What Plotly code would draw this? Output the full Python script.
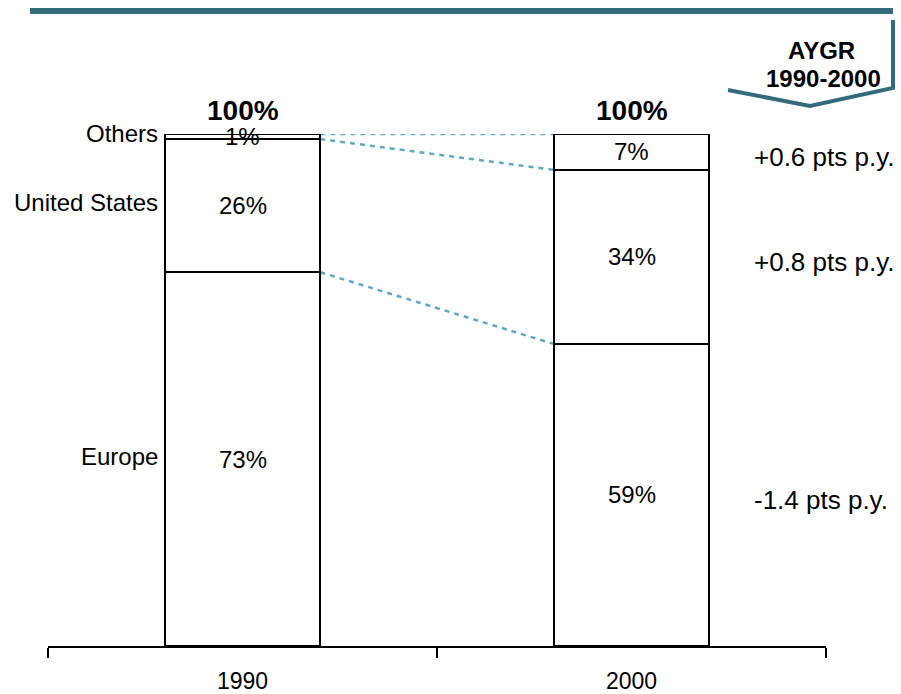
import plotly.graph_objects as go

# Market share by region (percent of total)
years = ["1990", "2000"]
regions = ["Europe", "United States", "Others"]
share_1990 = [73, 26, 1]
share_2000 = [59, 34, 7]
totals = ["100%", "100%"]
growth_labels = ["-1.4 pts p.y.", "+0.8 pts p.y.", "+0.6 pts p.y."]
header_lines = ["AYGR", "1990-2000"]

FONT = "Liberation Sans, Arial, sans-serif"
TEAL = "#336b7b"
CONNECTOR = "#5fa8c2"
BAR_W = 0.4

# Figure geometry (pixels) used to place the header decoration in paper space
W, H = 901, 694
ML, MR, MT, MB = 48, 75, 134, 48
PW, PH = W - ML - MR, H - MT - MB


def px_x(px):
    return (px - ML) / PW


def px_y(py):
    return (H - MB - py) / PH


fig = go.Figure()
for i, name in enumerate(regions):
    fig.add_trace(go.Bar(
        x=years,
        y=[share_1990[i], share_2000[i]],
        name=name,
        width=BAR_W,
        marker=dict(color="white", line=dict(color="black", width=2)),
        showlegend=False,
        hoverinfo="skip",
    ))

annotations = []
shapes = []


def cumulative(vals):
    out, s = [], 0
    for v in vals:
        out.append((s, s + v))
        s += v
    return out


cum90 = cumulative(share_1990)
cum00 = cumulative(share_2000)

# Segment value labels
for ci, (vals, cum) in enumerate([(share_1990, cum90), (share_2000, cum00)]):
    for v, (lo, hi) in zip(vals, cum):
        annotations.append(dict(
            x=ci, y=(lo + hi) / 2, xref="x", yref="y", text=f"{v}%",
            showarrow=False, font=dict(family=FONT, size=24, color="black"),
        ))
    # Total above the bar
    annotations.append(dict(
        x=ci, y=cum[-1][1], xref="x", yref="y", text=f"<b>{totals[ci]}</b>",
        showarrow=False, yshift=24, yanchor="middle",
        font=dict(family=FONT, size=28, color="black"),
    ))

# Region names to the left of the 1990 bar
for name, (lo, hi) in zip(regions, cum90):
    annotations.append(dict(
        x=-BAR_W / 2, y=(lo + hi) / 2, xref="x", yref="y", text=name,
        showarrow=False, xanchor="right", xshift=-5, yshift=3,
        font=dict(family=FONT, size=24, color="black"),
    ))

# Growth labels to the right of the 2000 bar
for lab, (lo, hi) in zip(growth_labels, cum00):
    annotations.append(dict(
        x=1 + BAR_W / 2, y=(lo + hi) / 2, xref="x", yref="y", text=lab,
        showarrow=False, xanchor="left", xshift=43, yshift=-5,
        font=dict(family=FONT, size=26, color="black"),
    ))

# Dashed connectors between the tops of matching segments
for (_, h90), (_, h00) in zip(cum90, cum00):
    shapes.append(dict(
        type="line", xref="x", yref="y",
        x0=BAR_W / 2, y0=h90, x1=1 - BAR_W / 2, y1=h00,
        line=dict(color=CONNECTOR, width=2.5, dash="5px,5px"),
        layer="below",
    ))

# Header rule
shapes.append(dict(
    type="rect", xref="paper", yref="paper",
    x0=px_x(30), x1=px_x(893), y0=px_y(14), y1=px_y(8),
    fillcolor=TEAL, line=dict(width=0),
))
# Chevron marker around the growth column header
shapes.append(dict(
    type="path", xref="paper", yref="paper",
    path=(f"M {px_x(728)},{px_y(90)} L {px_x(810)},{px_y(106)} "
          f"L {px_x(893)},{px_y(88)} L {px_x(893)},{px_y(20)}"),
    line=dict(color=TEAL, width=4), fillcolor="rgba(0,0,0,0)",
))
annotations.append(dict(
    x=px_x(821), y=px_y(50), xref="paper", yref="paper",
    xanchor="center", yanchor="middle",
    text=f"<b>{header_lines[0]}</b>", showarrow=False,
    font=dict(family=FONT, size=24, color="black"),
))
annotations.append(dict(
    x=px_x(823), y=px_y(78), xref="paper", yref="paper",
    xanchor="center", yanchor="middle",
    text=f"<b>{header_lines[1]}</b>", showarrow=False,
    font=dict(family=FONT, size=24, color="black"),
))

fig.update_layout(
    barmode="stack",
    width=W, height=H,
    margin=dict(l=ML, r=MR, t=MT, b=MB),
    plot_bgcolor="white", paper_bgcolor="white",
    annotations=annotations,
    shapes=shapes,
    xaxis=dict(
        type="category", range=[-0.5, 1.5],
        showline=True, linecolor="black", linewidth=1.5,
        ticks="outside", tickson="boundaries", ticklen=10,
        tickcolor="black", tickwidth=1.5,
        tickfont=dict(family=FONT, size=23, color="black"),
        ticklabelstandoff=14, automargin=False,
        showgrid=False, zeroline=False,
    ),
    yaxis=dict(range=[0, 100], visible=False, showgrid=False,
               automargin=False),
)

fig.write_html("out.html")
